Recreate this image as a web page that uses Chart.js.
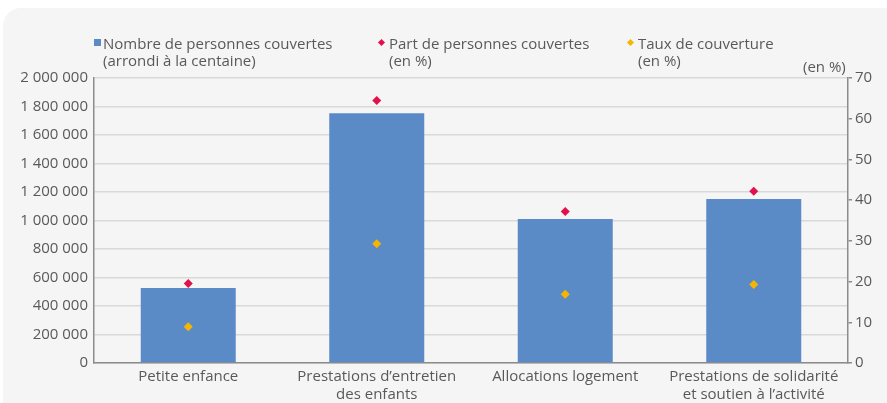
<!DOCTYPE html>
<html>
<head>
<meta charset="utf-8">
<script src="https://cdn.jsdelivr.net/npm/chart.js@4"></script>
<style>
  body { margin:0; background:#fff; font-family:"Open Sans", sans-serif; color:#595959; }
  #wrap { position:relative; width:887px; height:403px; overflow:hidden; }
  #panel { position:absolute; left:3px; top:8px; width:900px; height:420px; background:#f5f5f5; border-radius:18px; }
  canvas { position:absolute; left:0; top:0; }
  .leg { position:absolute; top:35px; font-size:15px; line-height:17px; color:#595959; white-space:nowrap; }
  .mk { position:absolute; }
  #unit { position:absolute; top:56px; left:803px; font-size:15px; color:#595959; }
</style>
</head>
<body>
<div id="wrap">
  <div id="panel"></div>
  <canvas id="grafico" width="887" height="403"></canvas>
  <div class="mk" style="left:94px;top:39px;width:7px;height:7px;background:#5b8bc7"></div>
  <div class="leg" style="left:103px">Nombre de personnes couvertes<br>(arrondi à la centaine)</div>
  <div class="mk" style="left:379px;top:40px;width:5px;height:5px;background:#e3104c;transform:rotate(45deg)"></div>
  <div class="leg" style="left:389px">Part de personnes couvertes<br>(en %)</div>
  <div class="mk" style="left:628px;top:40px;width:5px;height:5px;background:#f7b500;transform:rotate(45deg)"></div>
  <div class="leg" style="left:638px">Taux de couverture<br>(en %)</div>
  <div id="unit">(en %)</div>
</div>
<script>
// données
const categories = [
  'Petite enfance',
  ['Prestations d\u2019entretien', 'des enfants'],
  'Allocations logement',
  ['Prestations de solidarité', 'et soutien à l\u2019activité']
];
const personnesCouvertes = [527000, 1753000, 1010000, 1151000];
const partCouvertes = [19.5, 64.5, 37.2, 42.2];
const tauxCouverture = [8.9, 29.3, 16.9, 19.3];

const grisTexte = '#595959';
const grisAxe = '#8c8c8c';

function milliers(v) {
  return v.toString().replace(/\B(?=(\d{3})+(?!\d))/g, ' ');
}

let ctx = document.querySelector('#grafico');
let grafico = new Chart(ctx, {
  type: 'bar',
  data: {
    labels: categories,
    datasets: [
      {
        type: 'line',
        label: 'Part de personnes couvertes (en %)',
        data: partCouvertes,
        yAxisID: 'y1',
        showLine: false,
        pointStyle: 'rectRot',
        pointRadius: 4.5,
        backgroundColor: '#e3104c',
        borderColor: '#e3104c',
        borderWidth: 0,
        order: 0
      },
      {
        type: 'line',
        label: 'Taux de couverture (en %)',
        data: tauxCouverture,
        yAxisID: 'y1',
        showLine: false,
        pointStyle: 'rectRot',
        pointRadius: 4.5,
        backgroundColor: '#f7b500',
        borderColor: '#f7b500',
        borderWidth: 0,
        order: 0
      },
      {
        label: 'Nombre de personnes couvertes (arrondi à la centaine)',
        data: personnesCouvertes,
        yAxisID: 'y',
        backgroundColor: '#5b8bc7',
        barPercentage: 0.504,
        categoryPercentage: 1,
        order: 1
      }
    ]
  },
  options: {
    responsive: false,
    animation: false,
    layout: { padding: { top: 78, left: 0, right: 0, bottom: 0 } },
    plugins: { legend: { display: false }, tooltip: { enabled: false } },
    scales: {
      x: {
        grid: { display: false, drawTicks: false },
        border: { color: grisAxe, width: 1.5 },
        ticks: { color: grisTexte, font: { family: 'Open Sans', size: 15 }, padding: 5, maxRotation: 0 },
        afterFit: function (s) { s.height = 40; }
      },
      y: {
        position: 'left',
        min: 0,
        max: 2000000,
        grid: { color: '#d9d9d9', lineWidth: 1.5, drawTicks: false },
        border: { color: grisAxe, width: 1.5 },
        ticks: {
          stepSize: 200000,
          color: grisTexte,
          font: { family: 'Open Sans', size: 15 },
          padding: 6,
          callback: function (v) { return milliers(v); }
        },
        afterFit: function (s) { s.width = 94; }
      },
      y1: {
        position: 'right',
        min: 0,
        max: 70,
        grid: { drawOnChartArea: false, color: grisAxe, tickLength: 4, lineWidth: 1.5 },
        border: { color: grisAxe, width: 1.5 },
        ticks: { stepSize: 10, color: grisTexte, font: { family: 'Open Sans', size: 15 }, padding: 3 },
        afterFit: function (s) { s.width = 39; }
      }
    }
  }
});
</script>
</body>
</html>
